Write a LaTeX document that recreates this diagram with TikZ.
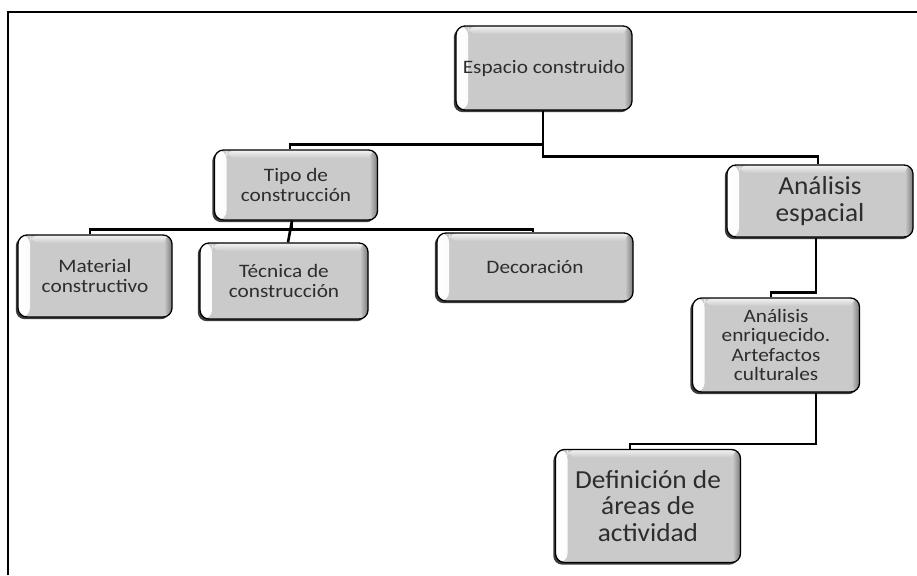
\documentclass[tikz,border=0pt]{standalone}
\usepackage{fontspec}
\setmainfont{Carlito}
\newfontfamily\smallwide[FakeStretch=1.12]{Carlito}
\newfontfamily\bigwide[FakeStretch=1.05]{Carlito}
\usetikzlibrary{calc,shadows}

\definecolor{boxgray}{RGB}{202,202,202}
\definecolor{labelgray}{RGB}{45,45,45}

\tikzset{
  orgbox/.style={
    draw=black, line width=1.3pt, rounded corners=9pt,
    fill=boxgray, text=labelgray, align=center,
    font=\smallwide\fontsize{19}{19.5}\selectfont, inner sep=2pt,
    drop shadow={shadow xshift=-2.2pt, shadow yshift=-2.2pt,
                 fill=black!85, opacity=0.9},
    path picture={
      \shade[left color=white, right color=boxgray]
        (path picture bounding box.north west)
        rectangle ([xshift=12pt]path picture bounding box.south west);
      \shade[top color=white!80!boxgray, bottom color=boxgray]
        ([xshift=12pt]path picture bounding box.north west)
        rectangle ([yshift=-8pt]path picture bounding box.north east);
      \shade[left color=boxgray, right color=black!40!boxgray]
        ([xshift=-8pt]path picture bounding box.north east)
        rectangle (path picture bounding box.south east);
    }
  },
  bigbox/.style={orgbox, font=\bigwide\fontsize{26}{26.5}\selectfont},
  link/.style={draw=black, line width=2.6pt}
}

\begin{document}
\begin{tikzpicture}[x=1pt, y=-1pt]
  \useasboundingbox (0,0) rectangle (917,575);

  % outer frame (open on the right and bottom)
  \draw[line width=2.6pt] (8,575) -- (8,12) -- (917,12);

  % boxes
  \node[orgbox, minimum width=176pt, minimum height=84pt] (espacio) at (544,68) {Espacio construido};
  \node[orgbox, minimum width=163pt, minimum height=70pt] (tipo) at (296,185) {Tipo de\\construcción};
  \node[orgbox, minimum width=154pt, minimum height=82pt] (material) at (95,276) {Material\\constructivo};
  \node[orgbox, minimum width=168pt, minimum height=76pt] (tecnica) at (284,281) {Técnica de\\construcción};
  \node[orgbox, minimum width=196pt, minimum height=68pt] (decor) at (535,267) {Decoración};
  \node[bigbox, minimum width=186pt, minimum height=72pt] (aesp) at (820,201) {Análisis\\espacial};
  \node[orgbox, minimum width=167pt, minimum height=94pt] (aenr) at (776,345) {Análisis\\enriquecido.\\Artefactos\\culturales};
  \node[bigbox, minimum width=185pt, minimum height=113pt] (def) at (648,506) {Definición de\\áreas de\\actividad};

  % connectors
  \draw[link] ($(espacio.south)+(-1,0)$) |- ($(tipo.north)+(-6,-5)$) -- ($(tipo.north)+(-6,0)$);
  \draw[link] ($(espacio.south)+(-1,30)$) |- ($(aesp.north)+(-2,-8)$) -- ($(aesp.north)+(-2,0)$);
  \draw[link] ($(tipo.south)+(-4,0)$) |- ($(material.north)+(-5,-5)$) -- ($(material.north)+(-5,0)$);
  \draw[link] ($(tipo.south)+(-4,0)$) -- ($(tecnica.north)+(4,0)$);
  \draw[link] ($(tipo.south)+(-4,9)$) -| ($(decor.north)+(-2,0)$);
  \draw[link] ($(aesp.south)+(-4,0)$) |- ($(aenr.north)+(-5,-5)$) -- ($(aenr.north)+(-5,0)$);
  \draw[link] ($(aenr.south)+(40,0)$) |- ($(def.north)+(-18,-5)$) -- ($(def.north)+(-18,0)$);
\end{tikzpicture}
\end{document}
